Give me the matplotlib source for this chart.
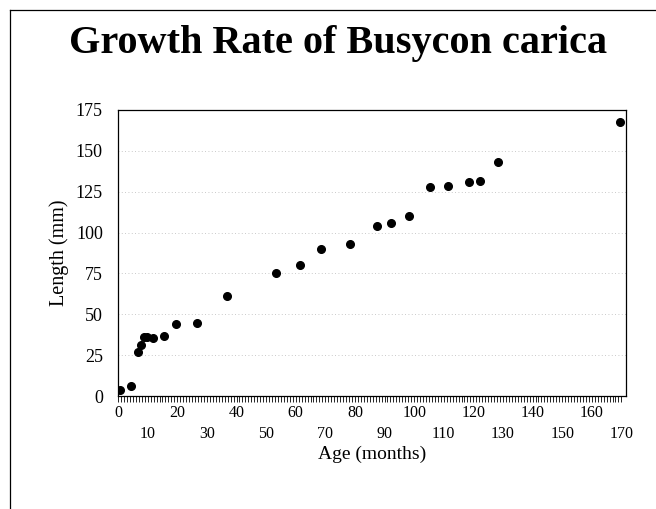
import matplotlib
matplotlib.use('Agg')
import matplotlib.pyplot as plt
from matplotlib.lines import Line2D
import numpy as np

# age in months vs shell length in mm
age = [0.7, 4.5, 6.6, 7.6, 8.6, 9.7, 11.7, 15.5, 19.7, 26.7, 36.9, 53.2,
       61.4, 68.5, 78.4, 87.4, 92.2, 98.2, 105.3, 111.4, 118.5, 122.4, 128.4, 169.6]
length = [3.5, 6.3, 27, 31, 36.4, 36.4, 35.2, 36.6, 44.2, 44.8, 61, 75.5,
          80.4, 90, 93, 104, 105.6, 110, 127.9, 128.3, 131, 131.5, 143, 167.4]
xticks = list(range(0, 171, 10))
yticks = [0, 25, 50, 75, 100, 125, 150, 175]

plt.rcParams['font.family'] = ['Liberation Serif', 'DejaVu Serif']

fig = plt.figure(figsize=(6.56, 5.09), dpi=100)
ax = fig.add_axes([0.180, 0.222, 0.774, 0.562])

for y in yticks[1:-1]:
    ax.axhline(y, color='#b8b8b8', lw=0.6, ls=(0, (1, 3)), zorder=0)

ax.plot(age, length, 'o', color='black', markersize=5.5, zorder=3)

ax.set_xlim(0, 171.5)
ax.set_ylim(0, 175)
ax.set_yticks(yticks)
ax.set_xticks(xticks)
# staggered labels: odd tens drop to a second row
labels = [str(v) if i % 2 == 0 else '\n' + str(v) for i, v in enumerate(xticks)]
ax.set_xticklabels(labels, fontsize=11.5)
for lab in ax.get_xticklabels():
    lab.set_linespacing(1.45)
ax.set_xticks(np.arange(0, 171, 1), minor=True)
ax.tick_params(axis='x', which='both', direction='out', length=4, width=0.6, pad=2.5)
ax.tick_params(axis='y', length=0, labelsize=13, pad=11)

for s in ax.spines.values():
    s.set_linewidth(0.9)

ax.set_xlabel('Age (months)', fontsize=14, labelpad=2)
ax.set_ylabel('Length (mm)', fontsize=14.5, labelpad=5)

fig.text(0.516, 0.896, 'Growth Rate of Busycon carica', ha='center', va='baseline',
         fontsize=29, fontweight='bold')

fig.add_artist(Line2D([0.015, 0.015], [0, 0.981], transform=fig.transFigure,
                      color='black', lw=0.9))
fig.add_artist(Line2D([0.015, 1.0], [0.981, 0.981], transform=fig.transFigure,
                      color='black', lw=0.9))

fig.savefig('out.png', dpi=100)
